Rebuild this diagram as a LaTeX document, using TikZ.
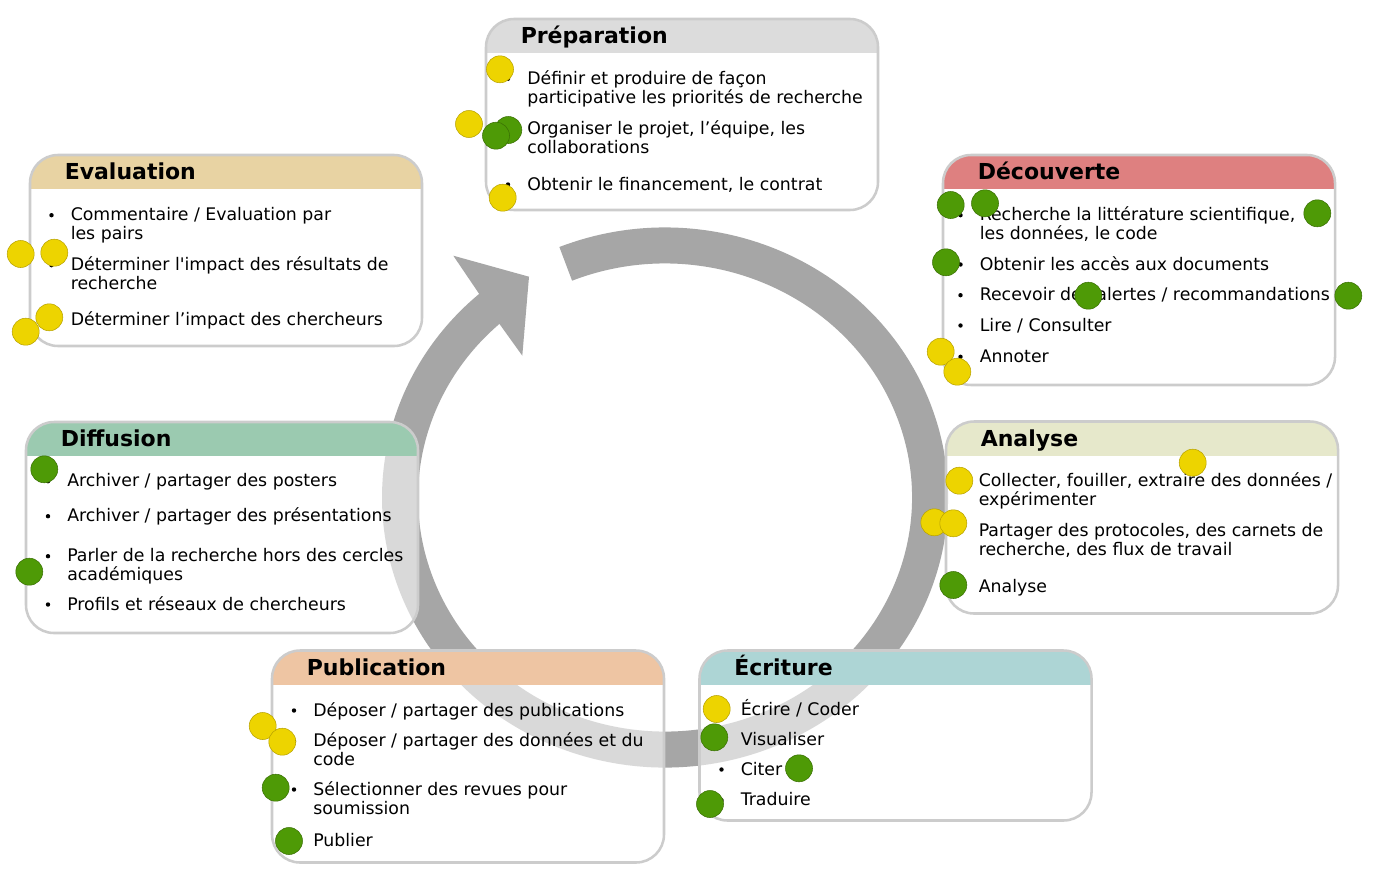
\documentclass[tikz,border=0pt]{standalone}
\usepackage{fontspec}
\setmainfont{DejaVu Sans}[Ligatures=TeXOff]
\usetikzlibrary{calc}

\definecolor{ringgray}{HTML}{A6A6A6}
\definecolor{framegray}{HTML}{CCCCCC}
\definecolor{hdprep}{HTML}{DCDCDC}
\definecolor{hddeco}{HTML}{DE8080}
\definecolor{hdeval}{HTML}{E8D3A3}
\definecolor{hddiff}{HTML}{9BCAB0}
\definecolor{hdanal}{HTML}{E6E8CB}
\definecolor{hdpubl}{HTML}{EEC5A3}
\definecolor{hdecri}{HTML}{ADD5D5}
\definecolor{dotyellow}{HTML}{EDD400}
\definecolor{dotyellowrim}{HTML}{B8A200}
\definecolor{dotgreen}{HTML}{4E9A06}
\definecolor{dotgreenrim}{HTML}{3A7004}

% one phase card: name, left x, top y, height, header colour, title
\newcommand\phasebox[6]{%
  \node[phasecard, minimum height=#4*0.75pt] (#1) at (#2,#3) {};
  \begin{scope}
    \clip[rounded corners=21pt] (#1.north west) rectangle (#1.south east);
    \fill[#5] (#1.north west) rectangle ($(#1.north east)+(0,34)$);
  \end{scope}
  \draw[cardframe] (#1.north west) rectangle (#1.south east);
  \node[phasetitle] (#1-title) at (#2+34.5,#3+24.5) {#6};
}
% one-line bullet item: name, text x, baseline, text
\newcommand\listentry[4]{%
  \fill (#2-19,#3-5.5) circle[radius=2.2];
  \node[entrytext] (#1) at (#2,#3) {#4};
}
% two-line bullet item: name, text x, first baseline, text
% (a multi-line node sits on the baseline of its last line)
\newcommand\listentrytwo[4]{%
  \fill (#2-19,#3-5.5) circle[radius=2.2];
  \node[entrytext] (#1) at (#2,#3+19) {#4};
}
\newcommand\yellowdot[2]{\filldraw[yellowmark] (#1,#2) circle[radius=13.5];}
\newcommand\greendot[2]{\filldraw[greenmark] (#1,#2) circle[radius=13.5];}

\begin{document}
\begin{tikzpicture}[x=0.75pt,y=-0.75pt,
  phasecard/.style={anchor=north west, rectangle, rounded corners=21pt,
    fill=white, fill opacity=0.58, minimum width=294pt,
    inner sep=0pt, outer sep=0pt},
  cardframe/.style={draw=framegray, line width=1.9pt, rounded corners=21pt},
  phasetitle/.style={anchor=base west, inner sep=0pt,
    font=\fontsize{16.5}{18}\selectfont\bfseries},
  entrytext/.style={anchor=base west, inner sep=0pt, align=left,
    font=\fontsize{13}{14.25}\selectfont},
  ringstroke/.style={draw=ringgray, line width=27pt},
  yellowmark/.style={fill=dotyellow, draw=dotyellowrim, line width=0.4pt},
  greenmark/.style={fill=dotgreen, draw=dotgreenrim, line width=0.4pt}]

\fill[white] (0,0) rectangle (1373,871);
\useasboundingbox (0,0) rectangle (1373,871);

% the cycle ring with its arrow head
\draw[ringstroke] (665,497.5) ++(-112:265 and 252)
  arc[start angle=-112, end angle=229.5, x radius=265, y radius=252];
\fill[ringgray] (453.3,255.7) -- (529,276.7) -- (522.3,355.7)
  -- (498.3,322.3) -- (477.7,291.7) -- cycle;

% phase cards
\phasebox{prep}{486}{19}{191}{hdprep}{Préparation}
\phasebox{deco}{943}{155}{230}{hddeco}{Découverte}
\phasebox{eval}{30}{155}{191}{hdeval}{Evaluation}
\phasebox{diff}{26}{422}{211}{hddiff}{Diffusion}
\phasebox{anal}{946}{421.5}{192}{hdanal}{Analyse}
\phasebox{publ}{272}{650.5}{212}{hdpubl}{Publication}
\phasebox{ecri}{699.5}{650.5}{170}{hdecri}{Écriture}

% Préparation
\listentrytwo{p1}{527}{84.3}{Définir et produire de façon\\participative les priorités de recherche}
\listentrytwo{p2}{527}{134.3}{Organiser le projet, l’équipe, les\\collaborations}
\listentry{p3}{527}{190}{Obtenir le financement, le contrat}
% Découverte
\listentrytwo{d1}{979.5}{220.7}{Recherche la littérature scientifique,\\les données, le code}
\listentry{d2}{979.5}{270}{Obtenir les accès aux documents}
\listentry{d3}{979.5}{300.7}{Recevoir des alertes / recommandations}
\listentry{d4}{979.5}{331}{Lire / Consulter}
\listentry{d5}{979.5}{362.3}{Annoter}
% Evaluation
\listentrytwo{e1}{70.5}{220.7}{Commentaire / Evaluation par\\les pairs}
\listentrytwo{e2}{70.5}{270.7}{Déterminer l'impact des résultats de\\recherche}
\listentry{e3}{70.5}{325.7}{Déterminer l’impact des chercheurs}
% Diffusion
\listentry{f1}{67}{486.7}{Archiver / partager des posters}
\listentry{f2}{67}{521.7}{Archiver / partager des présentations}
\listentrytwo{f3}{67}{561.7}{Parler de la recherche hors des cercles\\académiques}
\listentry{f4}{67}{610}{Profils et réseaux de chercheurs}
% Analyse
\listentrytwo{a1}{978.5}{486.7}{Collecter, fouiller, extraire des données /\\expérimenter}
\listentrytwo{a2}{978.5}{536.7}{Partager des protocoles, des carnets de\\recherche, des flux de travail}
\listentry{a3}{978.5}{592.3}{Analyse}
% Publication
\listentry{u1}{313}{716}{Déposer / partager des publications}
\listentrytwo{u2}{313}{746.7}{Déposer / partager des données et du\\code}
\listentrytwo{u3}{313}{795}{Sélectionner des revues pour\\soumission}
\listentry{u4}{313}{846}{Publier}
% Écriture
\listentry{w1}{740.5}{715.7}{Écrire / Coder}
\listentry{w2}{740.5}{745}{Visualiser}
\listentry{w3}{740.5}{775}{Citer}
\listentry{w4}{740.5}{805.7}{Traduire}

% markers
\yellowdot{500}{69.3}
\yellowdot{469}{124}
\greendot{508.3}{130}
\greendot{496}{135.7}
\yellowdot{502.7}{197.7}

\greendot{950.7}{205}
\greendot{985}{203.3}
\greendot{1317.3}{213.3}
\greendot{946}{262.3}
\greendot{1088.3}{295.7}
\greendot{1348.3}{295.7}
\yellowdot{940.7}{351.7}
\yellowdot{957.3}{371.7}

\yellowdot{20.7}{254}
\yellowdot{54.3}{252.7}
\yellowdot{25.7}{331.7}
\yellowdot{49.3}{317.3}

\greendot{44.3}{469.3}
\greendot{29.3}{571.7}

\yellowdot{1192.7}{462.7}
\yellowdot{959.3}{480.7}
\yellowdot{934.3}{522.3}
\yellowdot{953.3}{523.3}
\greendot{953.3}{585}

\yellowdot{262.7}{726}
\yellowdot{282.3}{741.7}
\greendot{275.7}{787.7}
\greendot{289}{841}

\yellowdot{716.7}{709}
\greendot{714.3}{737.3}
\greendot{799}{768.3}
\greendot{710}{804}
\end{tikzpicture}
\end{document}
